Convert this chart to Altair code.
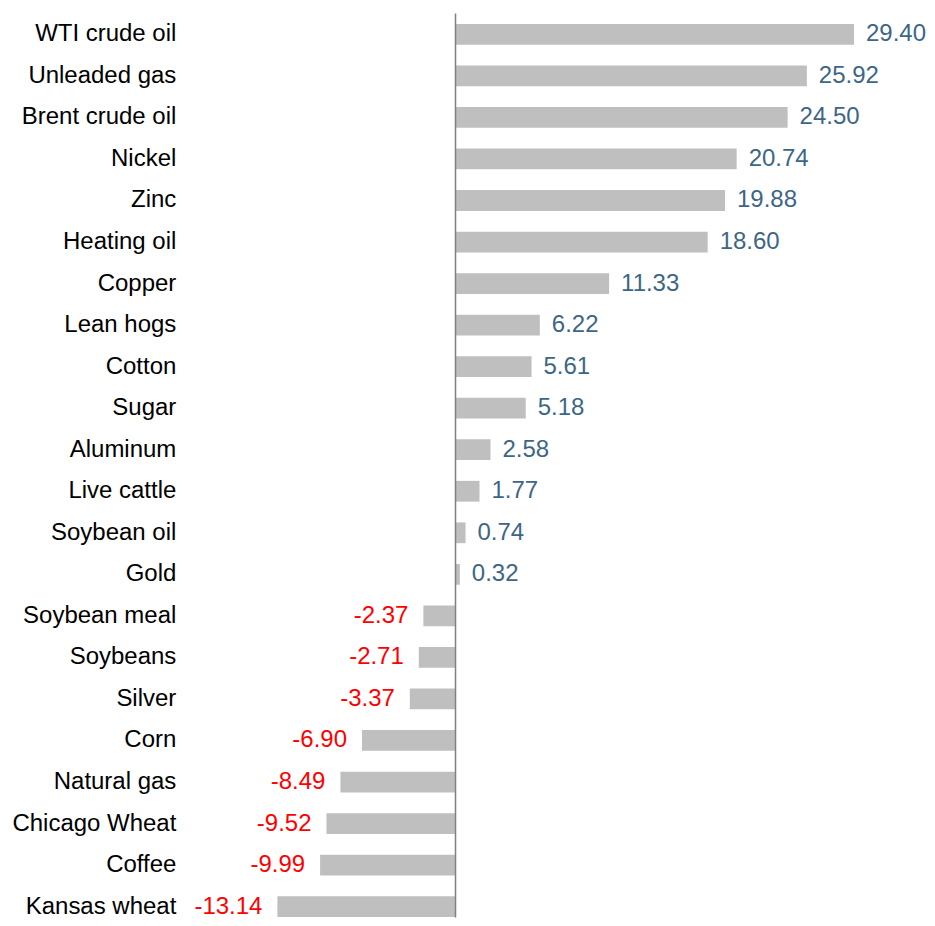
import altair as alt
import pandas as pd

categories = ["WTI crude oil", "Unleaded gas", "Brent crude oil", "Nickel", "Zinc",
              "Heating oil", "Copper", "Lean hogs", "Cotton", "Sugar", "Aluminum",
              "Live cattle", "Soybean oil", "Gold", "Soybean meal", "Soybeans",
              "Silver", "Corn", "Natural gas", "Chicago Wheat", "Coffee", "Kansas wheat"]
values = [29.40, 25.92, 24.50, 20.74, 19.88, 18.60, 11.33, 6.22, 5.61, 5.18, 2.58,
          1.77, 0.74, 0.32, -2.37, -2.71, -3.37, -6.90, -8.49, -9.52, -9.99, -13.14]

df = pd.DataFrame({"cat": categories, "val": values})
df["lbl"] = [f"{v:.2f}" for v in values]

FONT = "Liberation Sans"
FS = 24
W, H = 700, 895
xs = alt.Scale(domain=[-20.044, 31.54], nice=False, zero=False)
ys = alt.Scale(paddingInner=0.5, paddingOuter=0.012)

base = alt.Chart(df)

bars = base.mark_bar(color="#bfbfbf").encode(
    x=alt.X("val:Q", scale=xs, axis=None),
    y=alt.Y("cat:N", sort=categories, scale=ys,
            axis=alt.Axis(title=None, domain=False, ticks=False, labelPadding=8,
                          labelFont=FONT, labelFontSize=FS, labelColor="#000000",
                          labelLimit=400)),
)

pos = base.transform_filter("datum.val >= 0").mark_text(
    align="left", baseline="middle", dx=12, font=FONT, fontSize=FS, color="#3d6686"
).encode(
    x=alt.X("val:Q", scale=xs),
    y=alt.Y("cat:N", sort=categories, scale=ys),
    text=alt.Text("lbl:N"),
)

neg = base.transform_filter("datum.val < 0").mark_text(
    align="right", baseline="middle", dx=-15, font=FONT, fontSize=FS, color="#ff0000"
).encode(
    x=alt.X("val:Q", scale=xs),
    y=alt.Y("cat:N", sort=categories, scale=ys),
    text=alt.Text("lbl:N"),
)

zero = alt.Chart(pd.DataFrame({"z": [0]})).mark_rule(color="#808080", strokeWidth=1.5).encode(
    x=alt.X("z:Q", scale=xs),
    y=alt.value(-10),
    y2=alt.value(H),
)

chart = alt.layer(bars, zero, pos, neg).properties(
    width=W, height=H,
    padding={"left": 3, "top": 4, "right": 0, "bottom": 0},
).configure_view(stroke=None)

chart.save("out.html", embed_options={"renderer": "svg", "actions": False})
